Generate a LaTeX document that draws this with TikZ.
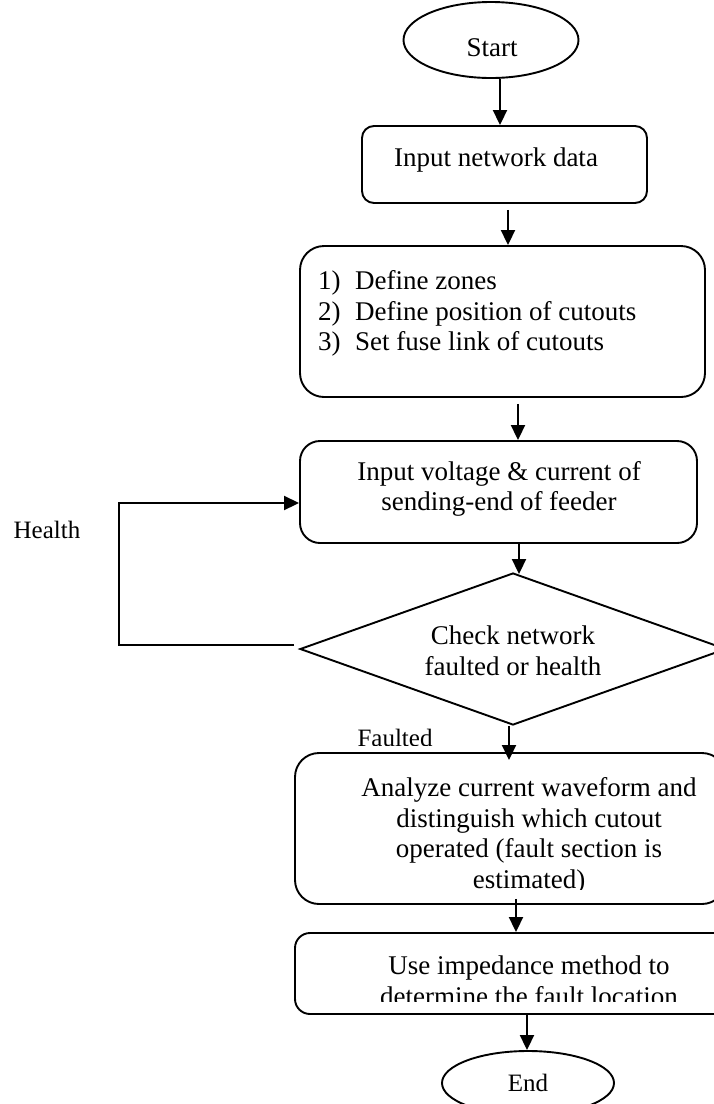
\documentclass[tikz,border=0pt]{standalone}
\usepackage{fontspec}
\setmainfont{Liberation Serif}
\usetikzlibrary{shapes.geometric,arrows.meta}

\begin{document}
\begin{tikzpicture}[x=1pt,y=-1pt,
  every node/.style={font=\fontsize{27}{30.5}\selectfont, inner sep=0pt},
  outline/.style={draw, line width=1.9pt},
  box/.style={outline, rectangle},
  term/.style={outline, ellipse},
  decision/.style={outline, diamond},
  txt/.style={align=center},
  lbl/.style={font=\fontsize{25}{28}\selectfont},
  arr/.style={line width=1.9pt, -{Triangle[length=15pt,width=14pt]}}]

\useasboundingbox (0,0) rectangle (714,1104);
\clip (0,0) rectangle (714,1104);
\fill[white] (0,0) rectangle (714,1104);

% shapes
\node[term, minimum width=175pt, minimum height=76pt] (start) at (491,40) {};
\node[box, rounded corners=12pt, minimum width=285pt, minimum height=77pt] (box1) at (504.5,164.5) {};
\node[box, rounded corners=24pt, minimum width=405pt, minimum height=151pt] (box3) at (502.5,321.5) {};
\node[box, rounded corners=20pt, minimum width=397pt, minimum height=102pt] (box4) at (498.5,492) {};
\node[decision, minimum width=426pt, minimum height=152pt] (dec) at (513,649) {};
\node[box, rounded corners=24pt, minimum width=431pt, minimum height=151pt] (box5) at (510.5,828.5) {};
\node[box, rounded corners=15pt, minimum width=435pt, minimum height=81pt] (box6) at (512.5,973.5) {};
\node[term, minimum width=172pt, minimum height=64pt] (end) at (528,1083) {};

% texts
\node (tstart) at (492,48) {Start};
\node (tbox1) at (496,160) {Input network data};
\node[align=left, anchor=west] (tbox3) at (318,313.5)
  {\makebox[37pt][l]{1)}Define zones\\
   \makebox[37pt][l]{2)}Define position of cutouts\\
   \makebox[37pt][l]{3)}Set fuse link of cutouts};
\node[txt] (tbox4) at (499,489) {Input voltage \& current of\\sending-end of feeder};
\node[txt] (tdec) at (513,651) {Check network\\faulted or health};
\node[lbl] (health) at (47,530) {Health};
\begin{scope}
  \clip (330,715) rectangle (460,745);
  \node[lbl] (faulted) at (395,738) {Faulted};
\end{scope}
\begin{scope}
  \clip (300,760) rectangle (714,889);
  \node[txt] (tbox5) at (529,836) {Analyze current waveform and\\distinguish which cutout\\operated (fault section is\\estimated)};
\end{scope}
\begin{scope}
  \clip (300,940) rectangle (714,1001);
  \node[txt] (tbox6) at (529,981) {Use impedance method to\\determine the fault location};
\end{scope}
\begin{scope}
  \clip (440,1055) rectangle (620,1091);
  \node[lbl] (tend) at (528,1083) {End};
\end{scope}

% connectors
\draw[arr] ([xshift=9pt]start.south) -- ([xshift=-4.5pt]box1.north);
\draw[arr] ([xshift=3.5pt,yshift=-6pt]box1.south) -- ([xshift=5.5pt]box3.north);
\draw[arr] ([xshift=15.5pt,yshift=-6pt]box3.south) -- ([xshift=19.5pt]box4.north);
\draw[arr] ([xshift=20.5pt]box4.south) -- ([xshift=6pt,yshift=-2pt]dec.north);
\draw[arr] ([xshift=-5pt,yshift=4pt]dec.west) -- ++(-175,0) |- ([yshift=-11pt]box4.west);
\draw[arr] ([xshift=-4pt]dec.south) -- ([xshift=-1.5pt,yshift=-8pt]box5.north);
\draw[arr] ([xshift=5.5pt,yshift=6pt]box5.south) -- ([xshift=3.5pt]box6.north);
\draw[arr] ([xshift=14.5pt]box6.south) -- ([xshift=-1pt]end.north);
\end{tikzpicture}
\end{document}
